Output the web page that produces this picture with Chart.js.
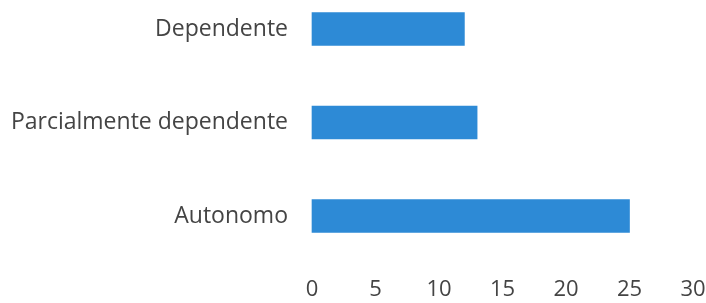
<!DOCTYPE html>
<html>
<head>
<meta charset="utf-8">
<script src="https://cdn.jsdelivr.net/npm/chart.js@4/dist/chart.umd.min.js"></script>
<style>
    html, body { margin: 0; padding: 0; background: #fff; }
    #wrap { width: 706px; height: 303px; }
</style>
</head>
<body>
<div id="wrap"><canvas id="barChart"></canvas></div>
<script>
// Chart data
const categories = ['Dependente', 'Parcialmente dependente', 'Autonomo'];
const values = [12, 13, 25];
const xTicks = [0, 5, 10, 15, 20, 25, 30];

new Chart(document.getElementById('barChart'), {
    type: 'bar',
    data: {
        labels: categories,
        datasets: [{
            data: values,
            backgroundColor: '#2d8ad6',
            barThickness: 33,
            clip: false
        }]
    },
    options: {
        indexAxis: 'y',
        responsive: true,
        maintainAspectRatio: false,
        animation: false,
        layout: {
            padding: { top: 29, bottom: 0, left: 0, right: 13 }
        },
        plugins: {
            legend: { display: false },
            tooltip: { enabled: false }
        },
        scales: {
            x: {
                min: xTicks[0],
                max: xTicks[xTicks.length - 1],
                afterBuildTicks: scale => {
                    scale.ticks = xTicks.map(v => ({ value: v }));
                },
                afterFit: scale => {
                    // keep the axis band fixed so the plot keeps its place
                    scale.height = 87;
                    scale.paddingLeft = 0;
                    scale.paddingRight = 0;
                },
                grid: { display: false },
                border: { display: false },
                ticks: {
                    padding: 53,
                    maxRotation: 0,
                    color: '#444',
                    font: { family: '"Open Sans", sans-serif', size: 22 }
                }
            },
            y: {
                offset: false,
                grid: { display: false },
                border: { display: false },
                afterFit: scale => {
                    scale.width = 312;
                    scale.paddingTop = 0;
                    scale.paddingBottom = 0;
                },
                ticks: {
                    padding: 16,
                    color: '#444',
                    font: { family: '"Open Sans", sans-serif', size: 23 }
                }
            }
        }
    }
});
</script>
</body>
</html>
